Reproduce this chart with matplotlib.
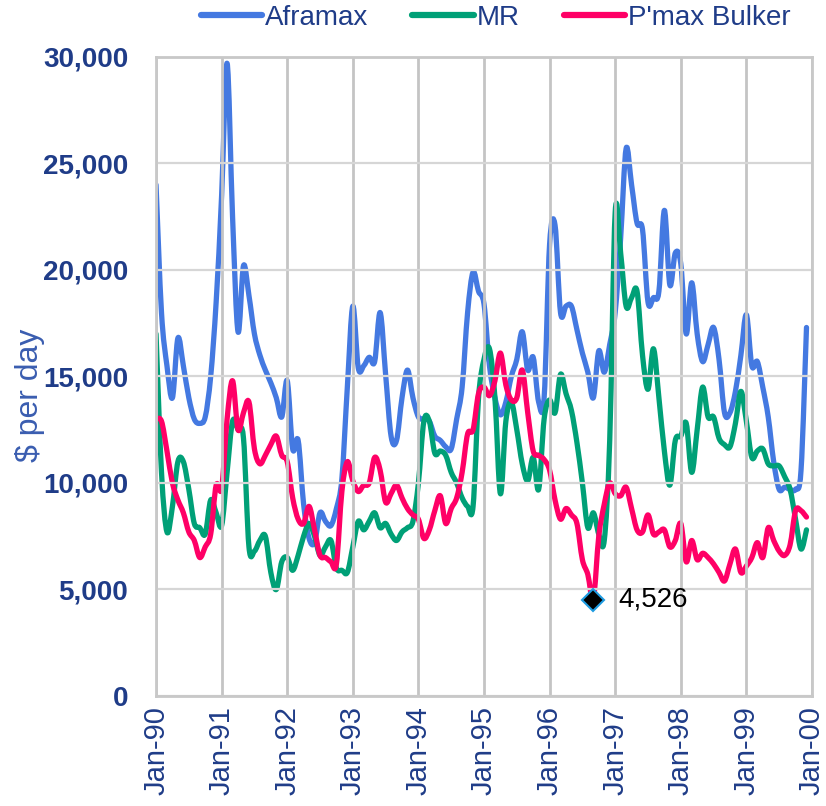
import numpy as np
import matplotlib
matplotlib.use("Agg")
import matplotlib.pyplot as plt
from matplotlib.path import Path
from matplotlib.patches import PathPatch
from matplotlib.lines import Line2D

plt.rcParams['font.family'] = ['Liberation Sans', 'DejaVu Sans']

# monthly earnings, Jan-90 .. Dec-99 ($ per day)
aframax = [24000, 18000, 15500, 14000, 16800, 15500, 14000, 13000, 12800, 13100, 15000, 18500,
           23500, 29700, 22500, 17100, 20200, 18800, 17000, 16000, 15300, 14700, 14000, 13100,
           14800, 11600, 12000, 9000, 7400, 7200, 8600, 8200, 8000, 8800, 10200, 14500,
           18300, 15400, 15500, 15900, 15700, 18000, 15100, 12200, 12000, 14000, 15300, 14000,
           13100, 13000, 12900, 12200, 12000, 11700, 11600, 13000, 14500, 18000, 19900, 19000,
           18400, 15500, 14000, 13200, 13800, 15000, 15800, 17100, 15300, 15900, 13800, 14000,
           21200, 22100, 18000, 18300, 18300, 17200, 16100, 15200, 14000, 16200, 15200, 16500,
           18000, 21500, 25700, 24000, 22200, 21900, 18500, 18700, 19000, 22800, 19300, 20800,
           20300, 17000, 19400, 17000, 15700, 16500, 17300, 15800, 13300, 13300, 14300, 16000,
           17900, 15500, 15700, 14500, 13100, 11000, 9700, 9800, 9700, 9700, 10600, 17300]

mr = [17000, 10500, 7700, 8900, 11000, 11000, 9700, 8100, 7900, 7600, 9200, 8600,
      8000, 10500, 12900, 12500, 12100, 7000, 6800, 7300, 7500, 5800, 5000, 6300,
      6500, 5900, 6600, 7500, 8100, 7500, 6600, 7000, 7300, 6000, 5900, 5800,
      7000, 8200, 7800, 8200, 8600, 7900, 8100, 7600, 7300, 7700, 7900, 8200,
      10000, 12900, 12900, 11400, 11500, 11300, 10500, 10000, 9300, 8900, 8900, 14000,
      15800, 16300, 14000, 9500, 12900, 13800, 12500, 10900, 10100, 11200, 9700, 13000,
      13900, 13300, 15100, 14200, 13400, 11900, 10000, 7900, 8600, 7600, 7300, 12000,
      22700, 20800, 18300, 18700, 19000, 16000, 14400, 16300, 14000, 11500, 9900, 12000,
      12200, 12800, 10500, 12500, 14500, 13100, 13100, 12100, 11800, 11700, 12800, 14300,
      12900, 11200, 11500, 11600, 10900, 10800, 10800, 10300, 9700, 8300, 6900, 7800]

pmax = [13000, 12900, 11500, 10000, 9200, 8600, 7700, 7300, 6500, 7000, 7600, 9900,
        9750, 13000, 14800, 12500, 13300, 13800, 11600, 10900, 11300, 11800, 12200, 11300,
        11000, 9300, 8300, 8100, 8900, 7800, 6600, 6500, 6300, 6200, 9600, 11000,
        10100, 9600, 9900, 10000, 11200, 10600, 9100, 9500, 9900, 9300, 8800, 8500,
        8300, 7400, 7800, 8700, 9400, 8100, 8800, 9300, 10500, 12300, 12500, 14200,
        14500, 14100, 14800, 16100, 14600, 13900, 14000, 15300, 13300, 11500, 11300, 11100,
        10600, 9200, 8300, 8800, 8500, 8100, 6400, 5700, 4526, 7500, 9000, 10000,
        9500, 9400, 9800, 8800, 7800, 7700, 8500, 7600, 7700, 7800, 7000, 7300,
        8100, 6300, 7300, 6400, 6700, 6500, 6200, 5800, 5400, 6200, 6900, 5800,
        6100, 6500, 7200, 6500, 7900, 7300, 6800, 6600, 7100, 8700, 8700, 8400]

year_labels = ["Jan-90", "Jan-91", "Jan-92", "Jan-93", "Jan-94", "Jan-95",
               "Jan-96", "Jan-97", "Jan-98", "Jan-99", "Jan-00"]

navy = "#1F3C88"
months = np.arange(len(aframax))


def smooth_path(x, y, t=1 / 6):
    # Excel-style smoothed line: Bezier segments through every data point
    x = np.asarray(x, float)
    y = np.asarray(y, float)
    xp = np.r_[x[0], x, x[-1]]
    yp = np.r_[y[0], y, y[-1]]
    verts = [(x[0], y[0])]
    codes = [Path.MOVETO]
    for i in range(len(x) - 1):
        c1 = (x[i] + (xp[i + 2] - xp[i]) * t, y[i] + (yp[i + 2] - yp[i]) * t)
        c2 = (x[i + 1] - (xp[i + 3] - xp[i + 1]) * t, y[i + 1] - (yp[i + 3] - yp[i + 1]) * t)
        verts += [c1, c2, (x[i + 1], y[i + 1])]
        codes += [Path.CURVE4] * 3
    return Path(verts, codes)


fig = plt.figure(figsize=(8.26, 8.06), dpi=100)
ax = fig.add_axes([0.1889, 0.1365, 0.7941, 0.7928])

series = [("Aframax", aframax, "#4479E1"), ("MR", mr, "#00A077"),
          ("P'max Bulker", pmax, "#FF0066")]
handles = []
for name, vals, col in series:
    ax.add_patch(PathPatch(smooth_path(months, vals), fill=False, edgecolor=col,
                           lw=3.8, joinstyle="round", capstyle="round"))
    handles.append(Line2D([], [], color=col, lw=4.5, solid_capstyle="round", label=name))

# lowest P'max value
i_min = int(np.argmin(pmax))
ax.plot(months[i_min], pmax[i_min], marker="D", ms=11, color="black",
        mec="#1E9BE0", mew=1.5, zorder=5)
ax.annotate(f"{pmax[i_min]:,}", (months[i_min], pmax[i_min]), xytext=(18, 0),
            textcoords="offset points", va="center", ha="left", fontsize=20, color="black")

ax.set_xlim(0, 120)
ax.set_ylim(0, 30000)
ax.set_xticks(np.arange(0, 121, 12))
ax.set_xticklabels(year_labels, rotation=90, fontsize=21, color=navy)
ax.set_yticks(np.arange(0, 30001, 5000))
ax.set_yticklabels([f"{v:,}" for v in range(0, 30001, 5000)], fontsize=20,
                   fontweight="bold", color=navy)
ax.tick_params(length=0)
ax.tick_params(axis="y", pad=20)
ax.tick_params(axis="x", pad=7)

ax.grid(axis="x", color="#C4C4C4", lw=2)
ax.grid(axis="y", color="#D6D6D6", lw=1.6)
for s in ax.spines.values():
    s.set_color("#C8C8C8")
    s.set_linewidth(2)

ax.set_ylabel("$ per day", fontsize=23, color="#3A5DB0")
ax.yaxis.set_label_coords(-0.17, 0.47)

fig.legend(handles=handles, loc="center", bbox_to_anchor=(0.6, 0.978), ncol=3,
           frameon=False, fontsize=20, handlelength=2.2, handletextpad=0.1,
           columnspacing=1.6, labelcolor=navy)

fig.savefig("out.png", dpi=100)
